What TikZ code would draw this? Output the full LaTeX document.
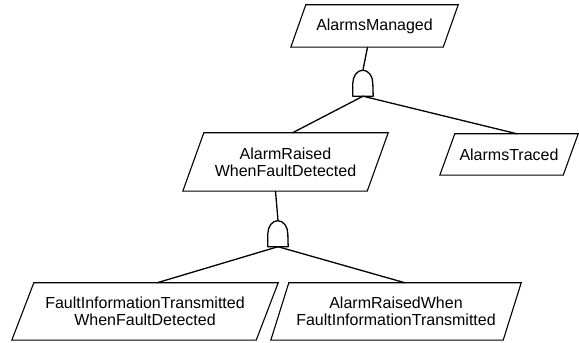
\documentclass[tikz,border=0pt]{standalone}
\usepackage{fontspec}
\setmainfont{Liberation Sans}
\begin{document}
\begin{tikzpicture}[x=1pt,y=1pt,
  goal/.style={rectangle, inner sep=0pt, align=center,
    font=\fontsize{16}{17}\selectfont},
  outline/.style={line width=1.1pt, line join=miter},
  gatebox/.style={rectangle, minimum width=20pt, minimum height=26pt, inner sep=0pt},
  conn/.style={line width=1.3pt},
  gateline/.style={line width=1.3pt, line join=round}]
\useasboundingbox (0,0) rectangle (579,343);
\newcommand\paraoutline[2]{%
  \draw[outline] ([xshift=#2/2]#1.north west) -- ([xshift=#2/2]#1.north east)
    -- ([xshift=-#2/2]#1.south east) -- ([xshift=-#2/2]#1.south west) -- cycle;}
\node[goal, minimum width=152pt, minimum height=42pt] (am) at (374.5,317) {AlarmsManaged};
\node[goal, minimum width=184pt, minimum height=58pt] (ar) at (285.5,181) {AlarmRaised\\WhenFaultDetected};
\node[goal, minimum width=123pt, minimum height=41pt] (at) at (509,188.5) {AlarmsTraced};
\node[goal, minimum width=244pt, minimum height=57pt] (fi) at (145,31.5) {FaultInformationTransmitted\\WhenFaultDetected};
\node[goal, minimum width=232pt, minimum height=57pt] (arw) at (396,31.5) {AlarmRaisedWhen\\FaultInformationTransmitted};
\paraoutline{am}{15pt}
\paraoutline{ar}{21pt}
\paraoutline{at}{15pt}
\paraoutline{fi}{22pt}
\paraoutline{arw}{18pt}
\node[gatebox] (g1) at (363,260) {};
\node[gatebox] (g2) at (278,109.5) {};
\draw[gateline] (g1.south west) -- ++(0,13pt) arc[start angle=180,end angle=0,x radius=10pt,y radius=13pt] -- (g1.south east) -- cycle;
\draw[gateline] (g2.south west) -- ++(0,13pt) arc[start angle=180,end angle=0,x radius=10pt,y radius=13pt] -- (g2.south east) -- cycle;
\draw[conn] ([xshift=-7pt]am.south) -- (g1.north);
\draw[conn] (g1.south) -- ([xshift=7pt]ar.north);
\draw[conn] (g1.south) -- ([xshift=8pt]at.north);
\draw[conn] ([xshift=-10pt]ar.south) -- (g2.north);
\draw[conn] (g2.south) -- ([xshift=12pt]fi.north);
\draw[conn] (g2.south) -- ([xshift=9pt]arw.north);
\end{tikzpicture}
\end{document}
